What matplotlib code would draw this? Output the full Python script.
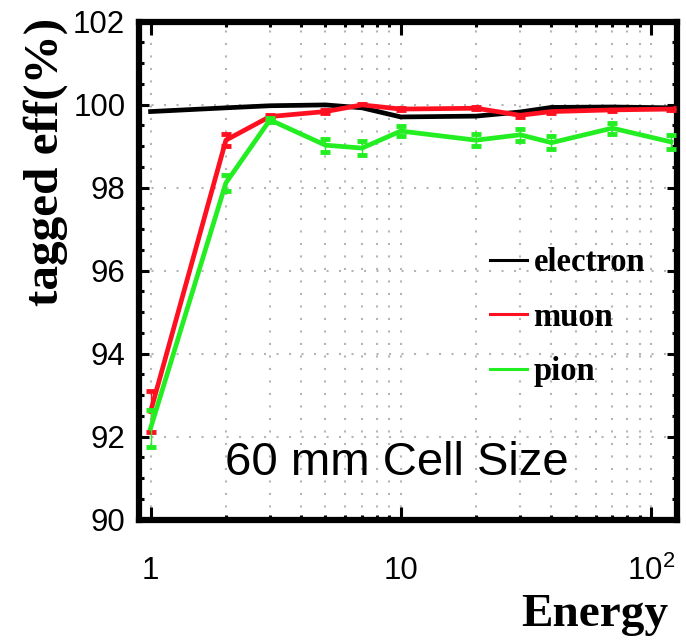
"""
Tagged efficiency vs energy for 60 mm cells (electron / muon / pion).
"""
import numpy as np
import matplotlib
matplotlib.use('Agg')
import matplotlib.pyplot as plt
from matplotlib.ticker import FixedLocator, LogLocator, NullFormatter

# data
energy = [1, 2, 3, 5, 7, 10, 20, 30, 40, 70, 120]
electron = [99.83, 99.92, 99.97, 99.99, 99.92, 99.70, 99.72, 99.82, 99.93, 99.94, 99.92]
muon = [92.6, 99.14, 99.71, 99.83, 99.99, 99.89, 99.91, 99.74, 99.83, 99.87, 99.89]
muon_err = [0.5, 0.15, 0.03, 0.03, 0.03, 0.03, 0.03, 0.03, 0.03, 0.03, 0.03]
pion = [92.2, 98.11, 99.63, 99.02, 98.95, 99.36, 99.14, 99.27, 99.08, 99.43, 99.10]
pion_err = [0.45, 0.2, 0.05, 0.16, 0.17, 0.13, 0.15, 0.14, 0.15, 0.13, 0.17]

y_ticks = [90, 92, 94, 96, 98, 100, 102]
x_ticks = [1, 10, 100]
x_ticklabels = ['1', '10', r'$\mathregular{10^2}$']

SANS = 'Liberation Sans'
SERIF = 'Liberation Serif'
RED = '#ff1020'
GREEN = '#22ee22'

plt.rcParams['font.family'] = SANS
plt.rcParams['mathtext.fontset'] = 'custom'
plt.rcParams['mathtext.rm'] = SANS

fig = plt.figure(figsize=(6.86, 6.43), dpi=100)
ax = fig.add_axes([138.5/686, 1 - 519.5/643, (677 - 138.5)/686, (519.5 - 21.5)/643])

# error bars first (caps only really visible), then the lines
ax.errorbar(energy, muon, yerr=muon_err, fmt='none', ecolor=RED, elinewidth=1.0,
            capsize=3.5, capthick=3.5, zorder=3)
ax.errorbar(energy, pion, yerr=pion_err, fmt='none', ecolor=GREEN, elinewidth=1.0,
            capsize=3.5, capthick=3.5, zorder=4)
l_e, = ax.plot(energy, electron, color='black', lw=3.4, label='electron', zorder=3)
l_m, = ax.plot(energy, muon, color=RED, lw=3.4, label='muon', zorder=3)
l_p, = ax.plot(energy, pion, color=GREEN, lw=3.4, label='pion', zorder=4)

ax.set_xscale('log')
ax.set_xlim(0.895, 127)
ax.set_ylim(90, 102)

ax.xaxis.set_major_locator(FixedLocator(x_ticks))
ax.xaxis.set_minor_locator(LogLocator(base=10, subs=np.arange(2, 10)))
ax.xaxis.set_minor_formatter(NullFormatter())
ax.set_xticklabels(x_ticklabels)
ax.set_yticks(y_ticks)
ax.set_yticks(np.arange(90, 102.01, 0.5), minor=True)

ax.tick_params(axis='both', which='both', direction='in', top=True, right=True,
               width=2.2, colors='black')
ax.tick_params(axis='x', which='major', length=9.5, pad=26, labelsize=22.5)
ax.tick_params(axis='x', which='minor', length=3.6)
ax.tick_params(axis='y', which='major', length=7.5, pad=9.5, labelsize=22.5)
ax.tick_params(axis='y', which='minor', length=3.4)

for s in ax.spines.values():
    s.set_linewidth(4.5)

ax.grid(True, which='major', axis='y', color='#b5b5b5', lw=1.5, ls=(0, (1, 5)))
ax.grid(True, which='both', axis='x', color='#b5b5b5', lw=1.5, ls=(0, (1, 5)))
ax.set_axisbelow(True)

leg = ax.legend(handles=[l_e, l_m, l_p], loc='upper left',
                bbox_to_anchor=((490 - 138.5)/538.5, (519.5 - 247)/498),
                frameon=False, borderpad=0, borderaxespad=0,
                handlelength=1.13, handletextpad=0.2, labelspacing=0.72,
                prop={'family': SERIF, 'weight': 'bold', 'size': 23.5})
for h in leg.legend_handles:
    h.set_linewidth(2.2)

ax.text((397 - 138.5)/538.5, (519.5 - 475)/498, '60 mm Cell Size',
        transform=ax.transAxes, ha='center', va='baseline', fontsize=34,
        family=SANS)

fig.text(668/686, 1 - 626/643, 'Energy', ha='right', va='baseline',
         family=SERIF, weight='bold', fontsize=34)
fig.text(46/686, 1 - 18/643, 'tagged eff(%)', rotation=90, ha='center', va='top',
         family=SERIF, weight='bold', fontsize=35.5)

fig.savefig('out.png', dpi=100)
plt.close(fig)
